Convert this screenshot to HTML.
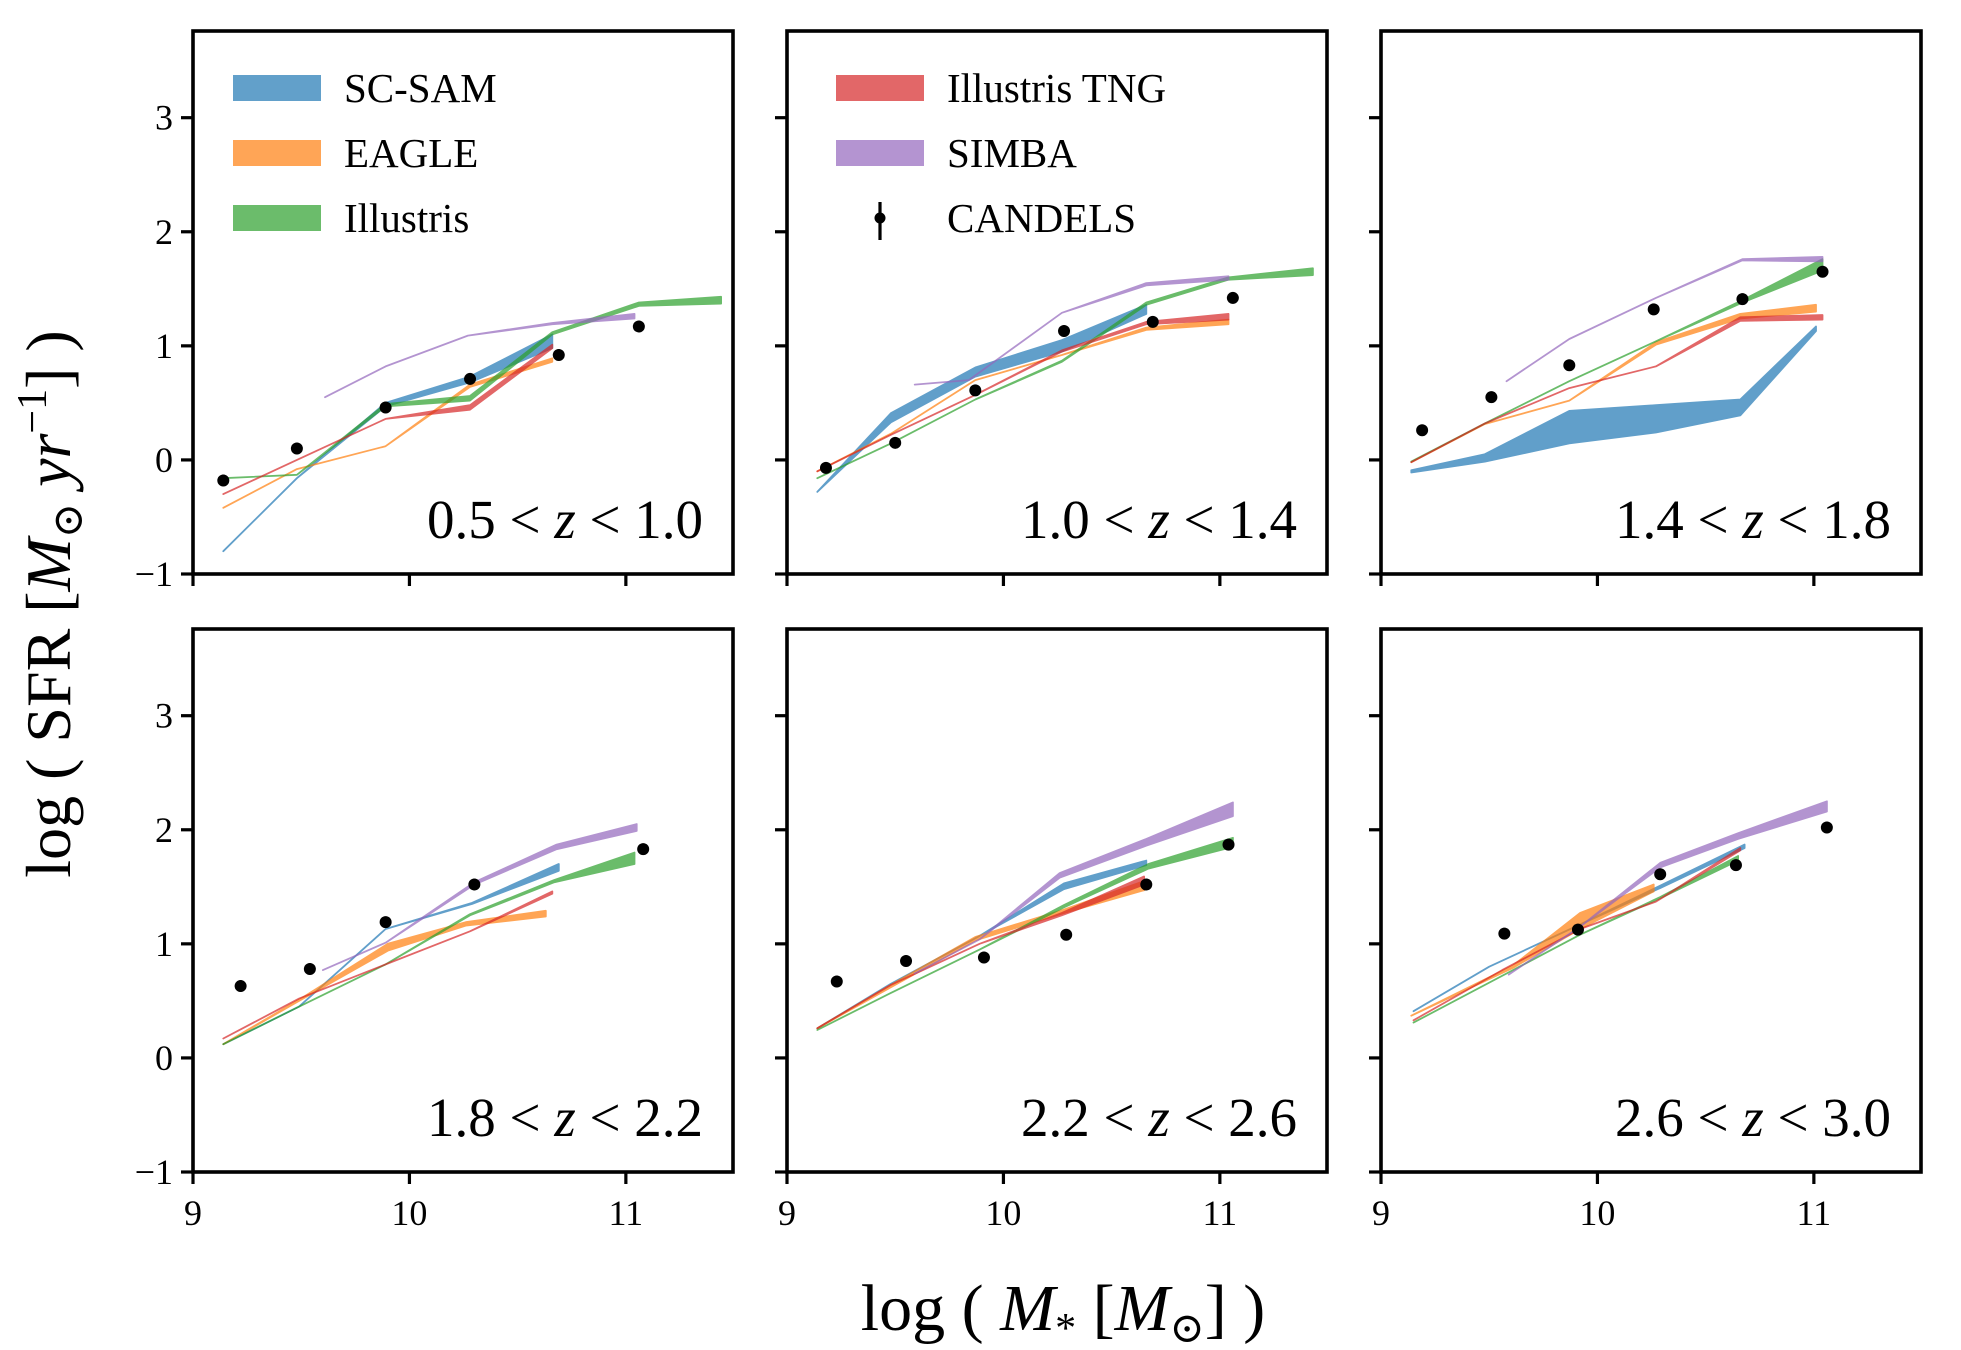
<!DOCTYPE html>
<html><head><meta charset="utf-8">
<style>
html,body{margin:0;padding:0;background:#fff;}
svg{display:block;font-family:"Liberation Serif","DejaVu Serif",serif;}
</style></head>
<body>
<svg id="fig" width="1961" height="1350" viewBox="0 0 1961 1350" xmlns="http://www.w3.org/2000/svg">
<rect x="0" y="0" width="1961" height="1350" fill="#fff"/>
<text transform="translate(70,604) rotate(-90)" text-anchor="middle" font-size="64" fill="#000">log ( SFR [<tspan font-style="italic">M</tspan><tspan font-size="42" dy="12">⊙</tspan><tspan dy="-12"> </tspan><tspan font-style="italic">yr</tspan><tspan font-size="42" dy="-24">−1</tspan><tspan dy="24">] )</tspan></text>
<text x="1063" y="1330" text-anchor="middle" font-size="66" fill="#000">log (  <tspan font-style="italic">M</tspan><tspan font-size="42" dy="12">*</tspan><tspan dy="-12">  [</tspan><tspan font-style="italic">M</tspan><tspan font-size="42" dy="12">⊙</tspan><tspan dy="-12">] )</tspan></text>
</svg>
<script>
// ---------- data ----------
const panelLabels = ["0.5 < z < 1.0","1.0 < z < 1.4","1.4 < z < 1.8","1.8 < z < 2.2","2.2 < z < 2.6","2.6 < z < 3.0"];
const seriesNames = ["SC-SAM","EAGLE","Illustris","Illustris TNG","SIMBA"];
const xTicks = [9,10,11];
const yTicks = [-1,0,1,2,3];

// panel 1
const p1_scsam_x=[9.14,9.48,9.89,10.28,10.66], p1_scsam_lo=[-0.80,-0.16,0.47,0.68,0.98], p1_scsam_hi=[-0.80,-0.16,0.50,0.73,1.10];
const p1_eagle_x=[9.14,9.48,9.89,10.28,10.66], p1_eagle_lo=[-0.42,-0.08,0.12,0.64,0.86], p1_eagle_hi=[-0.42,-0.08,0.12,0.66,0.89];
const p1_ill_x=[9.14,9.48,9.89,10.28,10.66,11.06,11.44], p1_ill_lo=[-0.16,-0.13,0.47,0.52,1.10,1.35,1.37], p1_ill_hi=[-0.16,-0.13,0.49,0.56,1.12,1.38,1.43];
const p1_tng_x=[9.14,9.48,9.89,10.28,10.66], p1_tng_lo=[-0.30,0.00,0.36,0.44,0.98], p1_tng_hi=[-0.30,0.00,0.36,0.48,1.01];
const p1_simba_x=[9.61,9.89,10.27,10.66,11.04], p1_simba_lo=[0.55,0.82,1.09,1.19,1.24], p1_simba_hi=[0.55,0.82,1.09,1.20,1.28];
const p1_cand_x=[9.14,9.48,9.89,10.28,10.69,11.06], p1_cand_y=[-0.18,0.10,0.46,0.71,0.92,1.17];
// panel 2
const p2_scsam_x=[9.14,9.48,9.87,10.27,10.66], p2_scsam_lo=[-0.28,0.33,0.73,0.95,1.28], p2_scsam_hi=[-0.28,0.41,0.81,1.05,1.36];
const p2_eagle_x=[9.14,9.48,9.87,10.27,10.66,11.04], p2_eagle_lo=[-0.10,0.23,0.70,0.92,1.14,1.19], p2_eagle_hi=[-0.10,0.23,0.70,0.92,1.16,1.23];
const p2_ill_x=[9.14,9.48,9.87,10.27,10.66,11.04,11.43], p2_ill_lo=[-0.16,0.145,0.53,0.86,1.36,1.58,1.62], p2_ill_hi=[-0.16,0.145,0.53,0.87,1.38,1.60,1.68];
const p2_tng_x=[9.14,9.48,9.87,10.27,10.66,11.04], p2_tng_lo=[-0.10,0.22,0.57,0.95,1.19,1.23], p2_tng_hi=[-0.10,0.22,0.57,0.96,1.21,1.28];
const p2_simba_x=[9.59,9.84,10.27,10.66,11.04], p2_simba_lo=[0.66,0.70,1.29,1.53,1.58], p2_simba_hi=[0.66,0.70,1.29,1.55,1.61];
const p2_cand_x=[9.18,9.50,9.87,10.28,10.69,11.06], p2_cand_y=[-0.07,0.15,0.61,1.13,1.21,1.42];
// panel 3
const p3_scsam_x=[9.14,9.48,9.87,10.27,10.66,11.01], p3_scsam_lo=[-0.11,-0.015,0.145,0.24,0.39,1.13], p3_scsam_hi=[-0.09,0.05,0.43,0.48,0.53,1.17];
const p3_eagle_x=[9.14,9.48,9.87,10.27,10.66,11.01], p3_eagle_lo=[-0.02,0.315,0.52,1.01,1.24,1.30], p3_eagle_hi=[-0.02,0.315,0.52,1.03,1.28,1.36];
const p3_ill_x=[9.14,9.48,9.87,10.27,10.67,11.04], p3_ill_lo=[-0.015,0.32,0.69,1.04,1.38,1.66], p3_ill_hi=[-0.015,0.32,0.69,1.04,1.40,1.76];
const p3_tng_x=[9.14,9.48,9.87,10.27,10.66,11.04], p3_tng_lo=[-0.02,0.32,0.63,0.82,1.22,1.23], p3_tng_hi=[-0.02,0.32,0.63,0.82,1.25,1.27];
const p3_simba_x=[9.58,9.87,10.27,10.67,11.04], p3_simba_lo=[0.69,1.06,1.42,1.75,1.74], p3_simba_hi=[0.69,1.06,1.42,1.76,1.78];
const p3_cand_x=[9.19,9.51,9.87,10.26,10.67,11.04], p3_cand_y=[0.26,0.55,0.83,1.32,1.41,1.65];
// panel 4
const p4_scsam_x=[9.14,9.49,9.89,10.29,10.69], p4_scsam_lo=[0.12,0.45,1.13,1.35,1.64], p4_scsam_hi=[0.12,0.45,1.13,1.36,1.70];
const p4_eagle_x=[9.14,9.49,9.90,10.26,10.63], p4_eagle_lo=[0.12,0.50,0.94,1.16,1.24], p4_eagle_hi=[0.12,0.51,1.00,1.19,1.29];
const p4_ill_x=[9.14,9.48,9.89,10.28,10.67,11.04], p4_ill_lo=[0.12,0.44,0.82,1.25,1.54,1.70], p4_ill_hi=[0.12,0.44,0.82,1.26,1.56,1.80];
const p4_tng_x=[9.14,9.49,9.89,10.28,10.66], p4_tng_lo=[0.17,0.52,0.82,1.11,1.44], p4_tng_hi=[0.17,0.52,0.82,1.11,1.46];
const p4_simba_x=[9.60,9.89,10.30,10.68,11.05], p4_simba_lo=[0.77,1.01,1.52,1.83,1.99], p4_simba_hi=[0.77,1.01,1.54,1.87,2.05];
const p4_cand_x=[9.22,9.54,9.89,10.30,11.08], p4_cand_y=[0.63,0.78,1.19,1.52,1.83];
// panel 5
const p5_scsam_x=[9.14,9.48,9.89,10.28,10.66], p5_scsam_lo=[0.26,0.65,1.07,1.48,1.69], p5_scsam_hi=[0.26,0.65,1.07,1.53,1.73];
const p5_eagle_x=[9.14,9.48,9.87,10.28,10.65], p5_eagle_lo=[0.26,0.62,1.03,1.27,1.47], p5_eagle_hi=[0.26,0.64,1.06,1.30,1.55];
const p5_ill_x=[9.14,9.48,9.89,10.28,10.67,11.06], p5_ill_lo=[0.245,0.57,0.95,1.32,1.66,1.85], p5_ill_hi=[0.245,0.57,0.95,1.34,1.70,1.93];
const p5_tng_x=[9.14,9.48,9.89,10.27,10.65], p5_tng_lo=[0.26,0.64,1.00,1.25,1.52], p5_tng_hi=[0.26,0.64,1.00,1.27,1.59];
const p5_simba_x=[9.59,9.89,10.26,10.66,11.06], p5_simba_lo=[0.74,1.04,1.58,1.86,2.12], p5_simba_hi=[0.74,1.04,1.62,1.92,2.24];
const p5_cand_x=[9.23,9.55,9.91,10.29,10.66,11.04], p5_cand_y=[0.67,0.85,0.88,1.08,1.52,1.87];
// panel 6
const p6_scsam_x=[9.15,9.50,9.92,10.29,10.68], p6_scsam_lo=[0.41,0.80,1.17,1.49,1.84], p6_scsam_hi=[0.41,0.80,1.17,1.51,1.87];
const p6_eagle_x=[9.14,9.61,9.92,10.26], p6_eagle_lo=[0.37,0.79,1.13,1.46], p6_eagle_hi=[0.37,0.81,1.27,1.52];
const p6_ill_x=[9.15,9.92,10.29,10.65], p6_ill_lo=[0.31,1.08,1.40,1.73], p6_ill_hi=[0.31,1.08,1.41,1.77];
const p6_tng_x=[9.15,9.56,9.92,10.27,10.66], p6_tng_lo=[0.33,0.77,1.13,1.37,1.82], p6_tng_hi=[0.33,0.77,1.13,1.37,1.84];
const p6_simba_x=[9.59,9.92,10.29,10.65,11.06], p6_simba_lo=[0.73,1.15,1.67,1.92,2.16], p6_simba_hi=[0.73,1.15,1.71,1.97,2.25];
const p6_cand_x=[9.57,9.91,10.29,10.64,11.06], p6_cand_y=[1.09,1.125,1.61,1.69,2.02];

const panels = [
 {scsam:[p1_scsam_x,p1_scsam_lo,p1_scsam_hi],eagle:[p1_eagle_x,p1_eagle_lo,p1_eagle_hi],ill:[p1_ill_x,p1_ill_lo,p1_ill_hi],tng:[p1_tng_x,p1_tng_lo,p1_tng_hi],simba:[p1_simba_x,p1_simba_lo,p1_simba_hi],cand:[p1_cand_x,p1_cand_y]},
 {scsam:[p2_scsam_x,p2_scsam_lo,p2_scsam_hi],eagle:[p2_eagle_x,p2_eagle_lo,p2_eagle_hi],ill:[p2_ill_x,p2_ill_lo,p2_ill_hi],tng:[p2_tng_x,p2_tng_lo,p2_tng_hi],simba:[p2_simba_x,p2_simba_lo,p2_simba_hi],cand:[p2_cand_x,p2_cand_y]},
 {scsam:[p3_scsam_x,p3_scsam_lo,p3_scsam_hi],eagle:[p3_eagle_x,p3_eagle_lo,p3_eagle_hi],ill:[p3_ill_x,p3_ill_lo,p3_ill_hi],tng:[p3_tng_x,p3_tng_lo,p3_tng_hi],simba:[p3_simba_x,p3_simba_lo,p3_simba_hi],cand:[p3_cand_x,p3_cand_y]},
 {scsam:[p4_scsam_x,p4_scsam_lo,p4_scsam_hi],eagle:[p4_eagle_x,p4_eagle_lo,p4_eagle_hi],ill:[p4_ill_x,p4_ill_lo,p4_ill_hi],tng:[p4_tng_x,p4_tng_lo,p4_tng_hi],simba:[p4_simba_x,p4_simba_lo,p4_simba_hi],cand:[p4_cand_x,p4_cand_y]},
 {scsam:[p5_scsam_x,p5_scsam_lo,p5_scsam_hi],eagle:[p5_eagle_x,p5_eagle_lo,p5_eagle_hi],ill:[p5_ill_x,p5_ill_lo,p5_ill_hi],tng:[p5_tng_x,p5_tng_lo,p5_tng_hi],simba:[p5_simba_x,p5_simba_lo,p5_simba_hi],cand:[p5_cand_x,p5_cand_y]},
 {scsam:[p6_scsam_x,p6_scsam_lo,p6_scsam_hi],eagle:[p6_eagle_x,p6_eagle_lo,p6_eagle_hi],ill:[p6_ill_x,p6_ill_lo,p6_ill_hi],tng:[p6_tng_x,p6_tng_lo,p6_tng_hi],simba:[p6_simba_x,p6_simba_lo,p6_simba_hi],cand:[p6_cand_x,p6_cand_y]}
];

// ---------- layout ----------
const NS="http://www.w3.org/2000/svg";
const svg=document.getElementById('fig');
const colX=[193,787,1381], rowY=[31,629], PW=540, PH=543;
const XMIN=9, XMAX=11.495, YMIN=-1, YMAX=3.76;
const colors={scsam:'#1f77b4',eagle:'#ff7f0e',ill:'#2ca02c',tng:'#d62728',simba:'#9467bd'};
const order=['scsam','eagle','ill','tng','simba'];
function mk(tag,attrs,parent){const e=document.createElementNS(NS,tag);for(const k in attrs)e.setAttribute(k,attrs[k]);(parent||svg).appendChild(e);return e;}

panels.forEach((p,i)=>{
  const x0=colX[i%3], y0=rowY[Math.floor(i/3)];
  const sx=v=>x0+(v-XMIN)/(XMAX-XMIN)*PW;
  const sy=v=>y0+PH-(v-YMIN)/(YMAX-YMIN)*PH;
  const g=mk('g',{});
  
  
  const clipId='clip'+i;
  const cp=mk('clipPath',{id:clipId},g);
  mk('rect',{x:x0,y:y0,width:PW,height:PH},cp);
  const plot=mk('g',{'clip-path':'url(#'+clipId+')'},g);
  order.forEach(key=>{
    const [xs,lo,hi]=p[key];
    const sg=mk('g',{opacity:0.7},plot);
    
    
    let pts=[];
    for(let k=0;k<xs.length;k++)pts.push(sx(xs[k]).toFixed(1)+','+sy(hi[k]).toFixed(1));
    for(let k=xs.length-1;k>=0;k--)pts.push(sx(xs[k]).toFixed(1)+','+sy(lo[k]).toFixed(1));
    mk('polygon',{points:pts.join(' '),fill:colors[key],stroke:colors[key],'stroke-width':1.8,'stroke-linejoin':'round'},sg);
  });
  const [cx,cy]=p.cand;
  for(let k=0;k<cx.length;k++){
    const d=mk('circle',{cx:sx(cx[k]),cy:sy(cy[k]),r:6,fill:'#000'},plot);
    
    
    mk('line',{x1:sx(cx[k]),x2:sx(cx[k]),y1:sy(cy[k]+0.05),y2:sy(cy[k]-0.05),stroke:'#000','stroke-width':2.5},plot);
  }
  // frame
  const fr=mk('rect',{x:x0,y:y0,width:PW,height:PH,fill:'none',stroke:'#000','stroke-width':3.6},g);
  
  
  yTicks.forEach(t=>{
    mk('line',{x1:x0-12,x2:x0,y1:sy(t),y2:sy(t),stroke:'#000','stroke-width':3.2},g);
    if(i%3===0){
      const tl=mk('text',{x:x0-20,y:sy(t)+12,'text-anchor':'end','font-size':36,fill:'#000'},g);
      tl.textContent=t<0?'−'+Math.abs(t):String(t);
      
      
    }
  });
  xTicks.forEach(t=>{
    mk('line',{x1:sx(t),x2:sx(t),y1:y0+PH,y2:y0+PH+12,stroke:'#000','stroke-width':3.2},g);
    if(i>=3){
      const tl=mk('text',{x:sx(t),y:y0+PH+53,'text-anchor':'middle','font-size':36,fill:'#000'},g);
      tl.textContent=String(t);
      
      
    }
  });
  const lab=mk('text',{x:x0+510,y:y0+PH-36,'text-anchor':'end','font-size':55,fill:'#000'},g);
  const parts=panelLabels[i].split(' z ');
  lab.appendChild(document.createTextNode(parts[0]+' '));
  const zi=mk('tspan',{'font-style':'italic'},lab); zi.textContent='z';
  lab.appendChild(document.createTextNode(' '+parts[1]));
  
  
});

// ---------- legends ----------
function legendSwatch(x,y,key,name){
  const lg=mk('g',{});
  
  
  mk('rect',{x:x,y:y,width:88,height:26,fill:colors[key],opacity:0.7},lg);
  const t=mk('text',{x:x+111,y:y+27,'font-size':41,fill:'#000'},lg);
  t.textContent=name;
}
legendSwatch(233,75,'scsam',seriesNames[0]);
legendSwatch(233,140,'eagle',seriesNames[1]);
legendSwatch(233,205,'ill',seriesNames[2]);
legendSwatch(836,75,'tng',seriesNames[3]);
legendSwatch(836,140,'simba',seriesNames[4]);
const cl=mk('g',{});


mk('line',{x1:880,x2:880,y1:202,y2:240,stroke:'#000','stroke-width':3.2},cl);
mk('circle',{cx:880,cy:218,r:5.5,fill:'#000'},cl);
const ct=mk('text',{x:947,y:232,'font-size':41,fill:'#000'},cl);
ct.textContent='CANDELS';
</script>
</body></html>
